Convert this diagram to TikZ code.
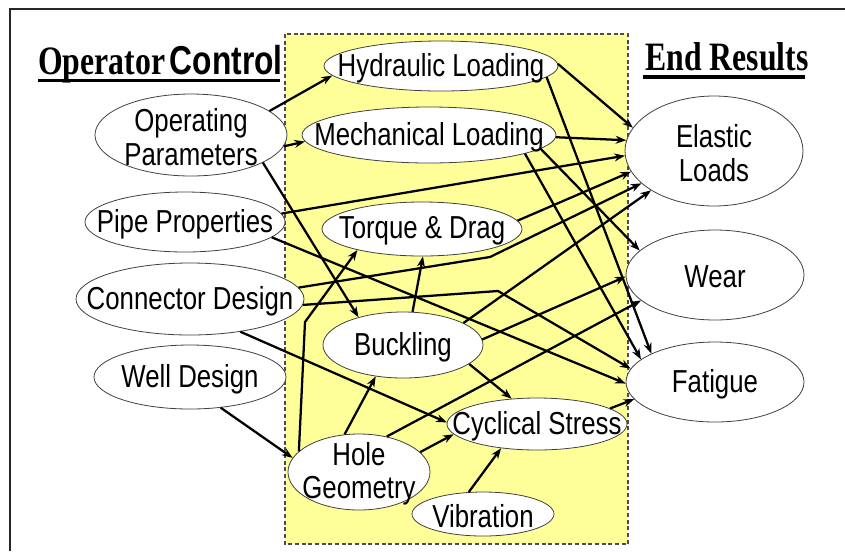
\documentclass[tikz,border=0pt]{standalone}
\usepackage{fontspec}
\setmainfont{Liberation Sans}
\newfontfamily\tms{Liberation Serif}
\usetikzlibrary{shapes.geometric,arrows.meta}
\definecolor{boxyellow}{RGB}{255,255,153}
\newcommand\sq[1]{\scalebox{0.86}[1.06]{#1}}
\newcommand\tsq[1]{\scalebox{0.85}[1.08]{#1}}
\begin{document}
\begin{tikzpicture}[x=0.75pt,y=-0.75pt,
  ell/.style={draw=black!75, line width=0.6pt, ellipse, fill=white, inner sep=0pt},
  lbl/.style={font=\fontsize{22.5}{25}\selectfont, align=center, inner sep=0pt, yshift=-1.5pt},
  arr/.style={line width=1.7pt, -{Stealth[length=8pt,width=6pt]}},
  ttl/.style={inner sep=0pt, anchor=base west, font=\bfseries\fontsize{28}{30}\selectfont},
  uline/.style={line width=2.8pt}]
\useasboundingbox (0,0) rectangle (845,551);
% frame
\draw[line width=1.2pt, black!85] (10,551) -- (10,9) -- (845,9);
% yellow box
\draw[draw=black!70, fill=boxyellow, line width=0.8pt, dash pattern=on 3pt off 2pt] (285,34) rectangle (628,544);
% titles
\node[ttl] (t1) at (38,74) {{\tms\tsq{Operator}}\hspace{3.5pt}\tsq{Control}};
\draw[uline] (38,80.5) -- (280,80.5);
\node[ttl] (t2) at (645,70) {\tms\tsq{End Results}};
\draw[uline] (643,77) -- (805,77);
% nodes
\node[ell, minimum width=144pt, minimum height=61.5pt, label={[lbl]center:{\sq{Operating}\\\sq{Parameters}}}] (opp) at (191,135) {};
\node[ell, minimum width=175.5pt, minimum height=37.5pt, label={[lbl]center:\sq{Hydraulic Loading}}] (hyd) at (441,66) {};
\node[ell, minimum width=190.5pt, minimum height=42pt, label={[lbl]center:\sq{Mechanical Loading}}] (mech) at (429,135) {};
\node[ell, minimum width=150pt, minimum height=45pt, label={[lbl]center:\sq{Pipe Properties}}] (pipe) at (185,222) {};
\node[ell, minimum width=171pt, minimum height=54pt, label={[lbl]center:\sq{Connector Design}}] (conn) at (190,299) {};
\node[ell, minimum width=144pt, minimum height=48pt, label={[lbl]center:\sq{Well Design}}] (well) at (190,377) {};
\node[ell, minimum width=150pt, minimum height=40.5pt, label={[lbl]center:\sq{Torque \& Drag}}] (td) at (422,229) {};
\node[ell, minimum width=120pt, minimum height=49.5pt, label={[lbl]center:\sq{Buckling}}] (buck) at (403,345) {};
\node[ell, minimum width=135pt, minimum height=39pt, label={[lbl]center:\sq{Cyclical Stress}}] (cyc) at (537,424) {};
\node[ell, minimum width=106.5pt, minimum height=57pt, label={[lbl]center:{\sq{Hole}\\\sq{Geometry}}}] (hole) at (359,472) {};
\node[ell, minimum width=106.5pt, minimum height=33pt, label={[lbl]center:\sq{Vibration}}] (vib) at (483,514) {};
\node[ell, minimum width=133.5pt, minimum height=82.5pt, label={[lbl]center:{\sq{Elastic}\\\sq{Loads}}}] (el) at (714,151) {};
\node[ell, minimum width=133.5pt, minimum height=67.5pt, label={[lbl]center:\sq{Wear}}] (wear) at (715,275) {};
\node[ell, minimum width=133.5pt, minimum height=60pt, label={[lbl]center:\sq{Fatigue}}] (fat) at (715,382) {};
% bend points
\coordinate (b1) at (305,322);
\coordinate (b2) at (498,291);
\coordinate (b3) at (490,257);
% connectors
\draw[arr] (opp.17) -- (hyd.185);
\draw[arr] (opp.-7) -- (mech.183);
\draw[arr] (opp.-21) -- (buck.148);
\draw[arr] (hyd.1) -- (el.164);
\draw[arr] (hyd.-6) -- (fat.156);
\draw[arr] (mech.-1) -- (el.173);
\draw[arr] (mech.-7) -- (wear.162);
\draw[arr] (mech.-11) -- (fat.163);
\draw[arr] (pipe.5) -- (el.183);
\draw[arr] (pipe.-10) -- (fat.181);
\draw[arr] (conn.6) -- (b3) -- (el.204);
\draw[arr] (conn.-3) -- (b2) -- (fat.171);
\draw[arr] (conn.-33) -- (cyc.179);
\draw[arr] (well.-45) -- (hole.168);
\draw[arr] (td.5) -- (el.194);
\draw[arr] (buck.20) -- (el.212);
\draw[arr] (buck.4) -- (wear.181);
\draw[arr] (buck.-16) -- (cyc.135);
\draw[arr] (buck.74) -- (td.-88);
\draw[arr] (hole.161) -- (b1) -- (td.198);
\draw[arr] (hole.111) -- (buck.229);
\draw[arr] (hole.18) -- (cyc.187);
\draw[arr] (hole.52) -- (wear.199);
\draw[arr] (vib.123) -- (cyc.214);
\draw[arr] (cyc.12) -- (fat.192);
\end{tikzpicture}
\end{document}
